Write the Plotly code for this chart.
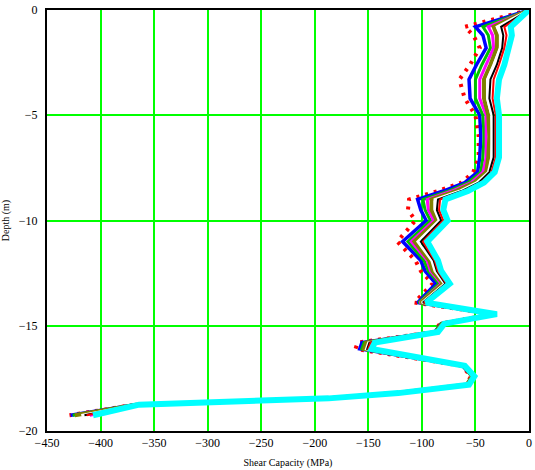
import plotly.graph_objects as go

# depth below surface (m), plotted as negative
depth = [0, 0.8, 1.2, 1.8, 2.6, 3.3, 4.2, 5.0, 6.0, 7.0, 7.7, 8.2, 8.6, 9.0, 9.5, 10.0,
         11.0, 11.9, 12.4, 13.0, 13.9, 14.45, 14.9, 15.3, 15.8, 16.1, 16.9, 17.4, 17.8,
         18.2, 18.45, 18.75, 19.25]

# shear capacity (MPa) for each trace
s_reddot = [0, -60, -52, -46, -55, -65, -60, -50, -47, -47, -52, -63, -85, -112, -113, -106,
            -123, -106, -101, -90, -107, -33, -83, -89, -160, -162, -63, -54, -59,
            -125, -190, -368, -429]
s_blue = [0, -50, -43, -40, -49, -56, -55, -46, -45, -46, -48, -60, -80, -104, -101, -96,
          -118, -101, -97, -87, -104, -32, -82, -88, -156, -158, -62, -53, -58,
          -124, -190, -368, -428]
s_green = [0, -43, -38, -36, -44, -50, -50, -43, -42, -43, -45, -57, -75, -99, -97, -92,
           -113, -98, -94, -84, -103, -32, -82, -88, -154, -156, -62, -53, -58,
           -124, -190, -367, -426]
s_magenta = [0, -38, -34, -33, -40, -46, -46, -40, -40, -40, -43, -54, -72, -95, -94, -89,
             -110, -95, -92, -82, -102, -31, -81, -87, -150, -151, -61, -52, -57,
             -123, -189, -365, -410]
s_olive = [0, -33, -30, -30, -36, -42, -42, -38, -37, -38, -40, -51, -68, -91, -91, -86,
           -107, -93, -90, -80, -101, -31, -81, -87, -152, -154, -61, -53, -58,
           -124, -190, -367, -424]
s_white = [0, -30, -26, -27, -33, -39, -39, -35, -35, -35, -38, -49, -65, -88, -88, -84,
           -104, -91, -88, -79, -100, -31, -80, -86, -150, -152, -61, -52, -57,
           -123, -189, -366, -418]
s_black = [0, -26, -24, -25, -30, -36, -37, -33, -33, -33, -37, -47, -63, -85, -86, -82,
           -101, -89, -86, -78, -99, -31, -80, -86, -149, -151, -61, -52, -57,
           -123, -189, -366, -415]
s_red = [0, -23, -21, -23, -28, -33, -34, -31, -31, -31, -35, -45, -61, -83, -84, -80,
         -99, -88, -85, -77, -98, -30, -80, -86, -148, -150, -60, -52, -57,
         -123, -189, -365, -413]
s_cyan = [0, -17, -16, -19, -23, -28, -30, -28, -28, -28, -32, -42, -57, -78, -80, -76,
          -95, -85, -82, -74, -96, -30, -79, -85, -144, -147, -60, -51, -56,
          -122, -187, -364, -407]

x_ticks = [-450, -400, -350, -300, -250, -200, -150, -100, -50, 0]
y_ticks = [-20, -15, -10, -5, 0]

neg_depth = [-d for d in depth]

traces = [
    (s_reddot, "#ff0000", 4, "3px,6px"),
    (s_blue, "#0000ff", 3.5, "solid"),
    (s_green, "#00c000", 3, "solid"),
    (s_magenta, "#ff00ff", 3, "solid"),
    (s_olive, "#808000", 4, "solid"),
    (s_white, "#ffffff", 2.5, "solid"),
    (s_black, "#000000", 2, "solid"),
    (s_red, "#ff0000", 2, "solid"),
    (s_cyan, "#00ffff", 6, "solid"),
]

fig = go.Figure()
for vals, col, w, dash in traces:
    fig.add_trace(go.Scatter(x=vals, y=neg_depth, mode="lines",
                             line=dict(color=col, width=w, dash=dash),
                             showlegend=False, hoverinfo="skip"))

font = dict(family="Liberation Serif, Times New Roman, serif", color="#000000")

fig.update_layout(
    width=535, height=470,
    margin=dict(l=47, r=3, t=8, b=37),
    paper_bgcolor="white", plot_bgcolor="white",
    font=dict(**font, size=12),
    xaxis=dict(
        range=[-450, 0], tickmode="array", tickvals=x_ticks,
        ticktext=["\u2212" + str(abs(v)) if v else "0" for v in x_ticks],
        showgrid=True, gridcolor="#00ff00", gridwidth=2,
        zeroline=False, showline=True, linecolor="#000000", linewidth=2, mirror=True,
        ticks="", tickfont=dict(**font, size=12),
        title=dict(text="Shear Capacity (MPa)", font=dict(**font, size=10), standoff=10),
    ),
    yaxis=dict(
        range=[-20, 0], tickmode="array", tickvals=y_ticks,
        ticktext=["\u2212" + str(abs(v)) if v else "0" for v in y_ticks],
        showgrid=True, gridcolor="#00ff00", gridwidth=2,
        zeroline=False, showline=True, linecolor="#000000", linewidth=2, mirror=True,
        ticks="", tickfont=dict(**font, size=12), ticklabelstandoff=5,
        title=dict(text="Depth (m)", font=dict(**font, size=10), standoff=8),
    ),
)

fig.write_html("out.html")
